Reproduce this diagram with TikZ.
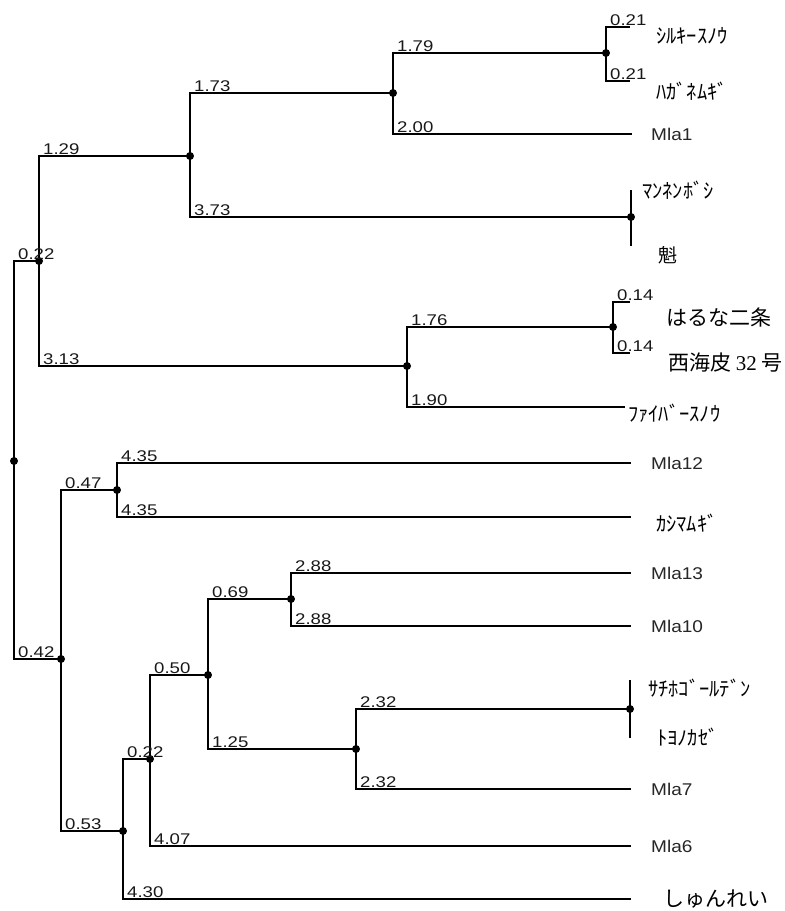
\documentclass[tikz,border=0pt]{standalone}
\usepackage{fontspec}
\setmainfont{Liberation Serif}
\newfontfamily\numfamily{Liberation Sans}
\newfontfamily\jpfamily{Noto Sans CJK JP}
\newcommand\stretchx[2]{\scalebox{#1}[1]{#2}}
\begin{document}
\begin{tikzpicture}[x=1pt,y=-1pt,
  br/.style={line width=2.1pt, line join=miter, black},
  thinbr/.style={line width=1.7pt, line join=miter, black},
  num/.style={anchor=base west, inner sep=0pt, text=black!90,
    font=\numfamily\fontsize{15.5}{15.5}\selectfont},
  mla/.style={anchor=west, inner sep=0pt, text=black!85,
    font=\numfamily\fontsize{17}{17}\selectfont},
  kana/.style={anchor=west, inner sep=0pt,
    font=\jpfamily\fontsize{20.5}{20.5}\selectfont},
  bigjp/.style={anchor=west, inner sep=0pt,
    font=\jpfamily\fontsize{21}{21}\selectfont}]
\useasboundingbox[fill=white] (0,0) rectangle (785,911);
% junctions
\coordinate (R) at (14,461);
\coordinate (A) at (39,261);
\coordinate (B) at (61,659);
\coordinate (C) at (190,156);
\coordinate (D) at (407,366);
\coordinate (E) at (393,93);
\coordinate (F) at (631,217);
\coordinate (G) at (606,53);
\coordinate (H) at (613,327);
\coordinate (I) at (117,490);
\coordinate (J) at (123,831);
\coordinate (K) at (150,759);
\coordinate (M) at (208,675);
\coordinate (N) at (291,599);
\coordinate (O) at (356,749);
\coordinate (P) at (630,709);
% leaf ends
\coordinate (s1) at (630,27);
\coordinate (s2) at (630,81);
\coordinate (m1) at (632,134);
\coordinate (f1) at (631,190);
\coordinate (f2) at (631,246);
\coordinate (h1) at (630,302);
\coordinate (h2) at (630,353);
\coordinate (fb) at (625,407);
\coordinate (m12) at (631,463);
\coordinate (ks) at (631,517);
\coordinate (m13) at (631,573);
\coordinate (m10) at (631,626);
\coordinate (p1) at (630,680);
\coordinate (p2) at (630,738);
\coordinate (m7) at (631,789);
\coordinate (m6) at (631,846);
\coordinate (sh) at (631,899);
% branches
\draw[br] (R) |- (A);
\draw[br] (R) |- (B);
\draw[br] (A) |- (C);
\draw[br] (A) |- (D);
\draw[br] (C) |- (E);
\draw[br] (C) |- (F);
\draw[br] (E) |- (G);
\draw[br] (E) |- (m1);
\draw[br] (G) |- (s1);
\draw[br] (G) |- (s2);
\draw[br] (f1) -- (f2);
\draw[br] (D) |- (H);
\draw[thinbr] (D) |- (fb);
\draw[br] (H) |- (h1);
\draw[br] (H) |- (h2);
\draw[br] (B) |- (I);
\draw[br] (B) |- (J);
\draw[br] (I) |- (m12);
\draw[br] (I) |- (ks);
\draw[br] (J) |- (K);
\draw[br] (J) |- (sh);
\draw[br] (K) |- (M);
\draw[br] (K) |- (m6);
\draw[br] (M) |- (N);
\draw[br] (M) |- (O);
\draw[thinbr] (N) |- (m13);
\draw[thinbr] (N) |- (m10);
\draw[br] (O) |- (P);
\draw[br] (O) |- (m7);
\draw[br] (p1) -- (p2);
% dots
\foreach \n in {R,A,B,C,D,E,F,G,H,I,J,K,M,N,O,P}
  \fill[black] (\n) circle (4pt);
% branch lengths
\node[num] (lA) at (18,259) {\stretchx{1.2}{0.22}};
\node[num] (lB) at (18,657) {\stretchx{1.2}{0.42}};
\node[num] (lC) at (43,154) {\stretchx{1.2}{1.29}};
\node[num] (lD) at (43,364) {\stretchx{1.2}{3.13}};
\node[num] (lE) at (194,91) {\stretchx{1.2}{1.73}};
\node[num] (lF) at (194,215) {\stretchx{1.2}{3.73}};
\node[num] (lG) at (397,51) {\stretchx{1.2}{1.79}};
\node[num] (lm1) at (397,132) {\stretchx{1.2}{2.00}};
\node[num] (ls1) at (610,25) {\stretchx{1.2}{0.21}};
\node[num] (ls2) at (610,79) {\stretchx{1.2}{0.21}};
\node[num] (lH) at (411,325) {\stretchx{1.2}{1.76}};
\node[num] (lfb) at (411,405) {\stretchx{1.2}{1.90}};
\node[num] (lh1) at (617,300) {\stretchx{1.2}{0.14}};
\node[num] (lh2) at (617,351) {\stretchx{1.2}{0.14}};
\node[num] (lI) at (65,488) {\stretchx{1.2}{0.47}};
\node[num] (lJ) at (65,829) {\stretchx{1.2}{0.53}};
\node[num] (lm12) at (121,461) {\stretchx{1.2}{4.35}};
\node[num] (lks) at (121,515) {\stretchx{1.2}{4.35}};
\node[num] (lK) at (127,757) {\stretchx{1.2}{0.22}};
\node[num] (lsh) at (127,897) {\stretchx{1.2}{4.30}};
\node[num] (lM) at (154,673) {\stretchx{1.2}{0.50}};
\node[num] (lm6) at (154,844) {\stretchx{1.2}{4.07}};
\node[num] (lN) at (212,597) {\stretchx{1.2}{0.69}};
\node[num] (lO) at (212,747) {\stretchx{1.2}{1.25}};
\node[num] (lm13) at (295,571) {\stretchx{1.2}{2.88}};
\node[num] (lm10) at (295,624) {\stretchx{1.2}{2.88}};
\node[num] (lP) at (360,707) {\stretchx{1.2}{2.32}};
\node[num] (lm7) at (360,787) {\stretchx{1.2}{2.32}};
% leaf names
\node[kana] (t1) at (656,36) {ｼﾙｷｰｽﾉｳ};
\node[kana] (t2) at (656,91) {ﾊｶﾞﾈﾑｷﾞ};
\node[mla] (t3) at (651,134) {\stretchx{1.12}{Mla1}};
\node[kana] (t4) at (642,190) {ﾏﾝﾈﾝﾎﾞｼ};
\node[anchor=west, inner sep=0pt, font=\jpfamily\fontsize{19}{19}\selectfont] (t5) at (658,255) {魁};
\node[bigjp] (t6) at (666,317) {はるな二条};
\node[bigjp] (t7) at (668,363) {西海皮 {\rmfamily 32} 号};
\node[kana] (t8) at (628,413) {ﾌｧｲﾊﾞｰｽﾉｳ};
\node[mla] (t9) at (651,463) {\stretchx{1.12}{Mla12}};
\node[kana] (t10) at (656,523) {ｶｼﾏﾑｷﾞ};
\node[mla] (t11) at (651,573) {\stretchx{1.12}{Mla13}};
\node[mla] (t12) at (651,626) {\stretchx{1.12}{Mla10}};
\node[kana] (t13) at (648,688) {ｻﾁﾎｺﾞｰﾙﾃﾞﾝ};
\node[kana] (t14) at (657,737) {ﾄﾖﾉｶｾﾞ};
\node[mla] (t15) at (651,789) {\stretchx{1.12}{Mla7}};
\node[mla] (t16) at (651,846) {\stretchx{1.12}{Mla6}};
\node[bigjp] (t17) at (663,899) {しゅんれい};
\end{tikzpicture}
\end{document}
